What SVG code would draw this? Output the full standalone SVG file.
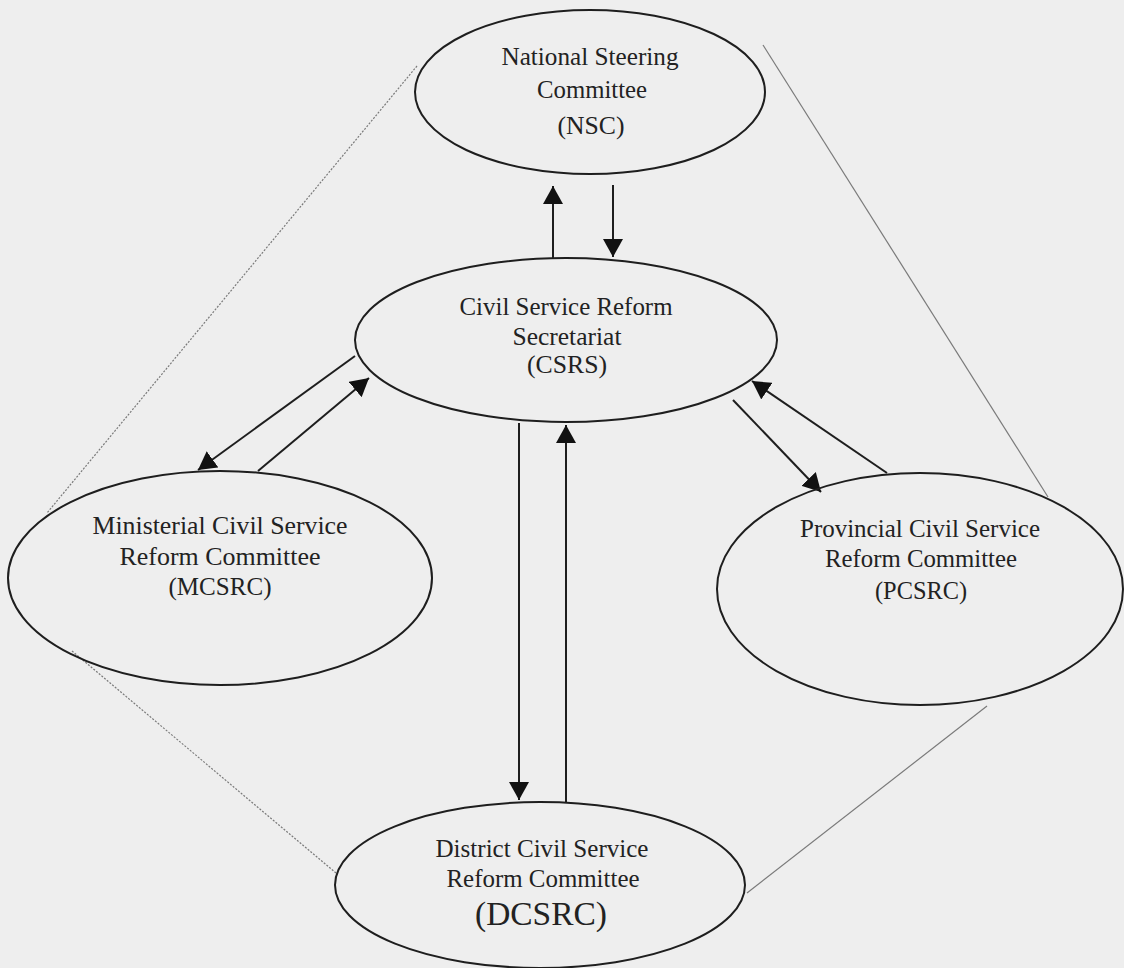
<svg xmlns="http://www.w3.org/2000/svg" width="1124" height="968" viewBox="0 0 1124 968">
  <style>
    .node ellipse { fill: none; stroke: #1e1e1e; stroke-width: 2; }
    .node text { font-family: "Liberation Serif", "Times New Roman", serif; font-size: 25px; fill: #222222; text-anchor: middle; }
    .arrow { stroke: #1e1e1e; stroke-width: 2; fill: none; marker-end: url(#head); }
    .thin { stroke: #7a7a7a; stroke-width: 1.2; fill: none; }
    .dotted { stroke-dasharray: 2 1.5; }
  </style>
  <defs>
    <marker id="head" viewBox="0 0 18 20" refX="18" refY="10" markerWidth="18" markerHeight="20" markerUnits="userSpaceOnUse" orient="auto">
      <path d="M0,0 L18,10 L0,20 z" fill="#111"/>
    </marker>
  </defs>
  <rect x="0" y="0" width="1124" height="968" fill="#eeeeee"/>

  <g id="connectors">
    <line class="thin dotted" x1="417" y1="66" x2="47" y2="513"/>
    <line class="thin dotted" x1="72" y1="651" x2="336" y2="873"/>
    <line class="thin" x1="763" y1="45" x2="1048" y2="497"/>
    <line class="thin" x1="747" y1="893" x2="987" y2="706"/>
    <line class="arrow" x1="553" y1="258" x2="553" y2="186"/>
    <line class="arrow" x1="613" y1="185" x2="613" y2="257"/>
    <line class="arrow" x1="355" y1="356" x2="198" y2="470"/>
    <line class="arrow" x1="258" y1="471" x2="369" y2="378"/>
    <line class="arrow" x1="733" y1="400" x2="821" y2="492"/>
    <line class="arrow" x1="887" y1="473" x2="752" y2="381"/>
    <line class="arrow" x1="519" y1="423" x2="519" y2="800"/>
    <line class="arrow" x1="566" y1="802" x2="566" y2="425"/>
  </g>

  <g id="nsc" class="node">
    <ellipse cx="590" cy="92" rx="175" ry="82"/>
    <text x="590" y="65" textLength="177" lengthAdjust="spacingAndGlyphs">National Steering</text>
    <text x="592" y="98" textLength="110" lengthAdjust="spacingAndGlyphs">Committee</text>
    <text x="591" y="134" textLength="67" lengthAdjust="spacingAndGlyphs">(NSC)</text>
  </g>

  <g id="csrs" class="node">
    <ellipse cx="566" cy="340" rx="211" ry="82"/>
    <text x="566" y="315" textLength="213" lengthAdjust="spacingAndGlyphs">Civil Service Reform</text>
    <text x="567" y="345" textLength="109" lengthAdjust="spacingAndGlyphs">Secretariat</text>
    <text x="567" y="373" textLength="80" lengthAdjust="spacingAndGlyphs">(CSRS)</text>
  </g>

  <g id="mcsrc" class="node">
    <ellipse cx="220" cy="578" rx="212" ry="107"/>
    <text x="220" y="534" textLength="255" lengthAdjust="spacingAndGlyphs">Ministerial Civil Service</text>
    <text x="220" y="565" textLength="201" lengthAdjust="spacingAndGlyphs">Reform Committee</text>
    <text x="220" y="595" textLength="103" lengthAdjust="spacingAndGlyphs">(MCSRC)</text>
  </g>

  <g id="pcsrc" class="node">
    <ellipse cx="920" cy="589" rx="203" ry="116"/>
    <text x="920" y="537" textLength="240" lengthAdjust="spacingAndGlyphs">Provincial Civil Service</text>
    <text x="921" y="567" textLength="192" lengthAdjust="spacingAndGlyphs">Reform Committee</text>
    <text x="921" y="599" textLength="92" lengthAdjust="spacingAndGlyphs">(PCSRC)</text>
  </g>

  <g id="dcsrc" class="node">
    <ellipse cx="540" cy="885" rx="205" ry="83"/>
    <text x="542" y="857" textLength="213" lengthAdjust="spacingAndGlyphs">District Civil Service</text>
    <text x="543" y="887" textLength="193" lengthAdjust="spacingAndGlyphs">Reform Committee</text>
    <text x="541" y="925" style="font-size:33px" textLength="132" lengthAdjust="spacingAndGlyphs">(DCSRC)</text>
  </g>
</svg>
